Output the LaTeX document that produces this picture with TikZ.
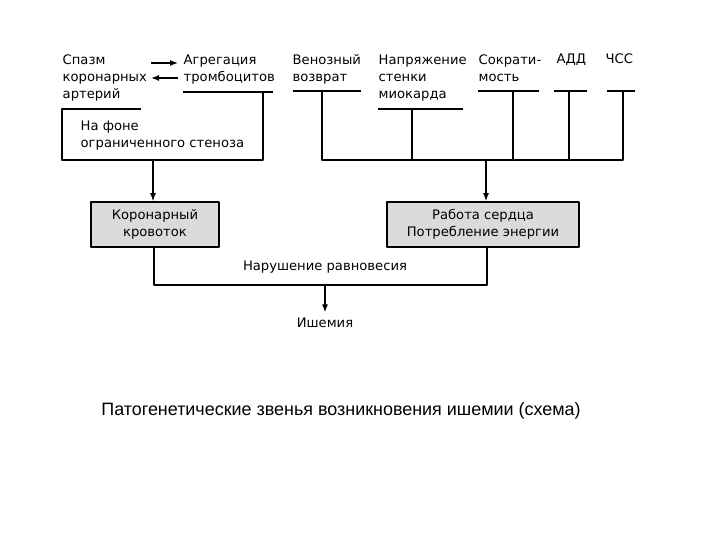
\documentclass[tikz,border=0pt]{standalone}
\usepackage{fontspec}
\setmainfont{DejaVu Sans}
\newfontfamily\capfont{Liberation Sans}
\usetikzlibrary{arrows.meta}
\begin{document}
\begin{tikzpicture}[>={Latex[length=8bp,width=6bp]},line join=bevel,x=1bp,y=-1bp]
  \pgfsetlinewidth{1.4bp}
  \tikzset{
    lbl/.style={align=left,inner sep=0pt,anchor=base west,font=\fontsize{13.2}{17.5}\selectfont},
    txt/.style={inner sep=0pt,font=\fontsize{13.2}{17.5}\selectfont},
    box/.style={draw,line width=1.6bp,fill=black!14,align=center,inner sep=0pt,font=\fontsize{13.2}{17}\selectfont}
  }
  \useasboundingbox (0,0) rectangle (720,540);
%%
  % Node: factors (base = last line)
  \node[lbl] (spazm) at (62,99) {Спазм\\коронарных\\артерий};
  \node[lbl] (agreg) at (183,81.5) {Агрегация\\тромбоцитов};
  \node[lbl] (ven) at (292,81.5) {Венозный\\возврат};
  \node[lbl] (napr) at (378,99) {Напряжение\\стенки\\миокарда};
  \node[lbl] (sokr) at (478,81.5) {Сократи-\\мость};
  \node[lbl] (add) at (556,64) {АДД};
  \node[lbl] (chss) at (605,64) {ЧСС};
  \node[lbl] (fon) at (80,147.5) {На фоне\\ограниченного стеноза};
  % Node: boxes
  \node[box,minimum width=128bp,minimum height=45bp] (koron) at (155,224.5) {Коронарный\\кровоток};
  \node[box,minimum width=192bp,minimum height=45bp] (rabota) at (483,224.5) {Работа сердца\\Потребление энергии};
  \node[txt] (disb) at (325,267) {Нарушение равновесия};
  \node[txt] (ischemia) at (325,323) {Ишемия};
  \node[inner sep=0pt,font=\capfont\fontsize{18}{21}\selectfont] (caption) at (341,411)
    {Патогенетические звенья возникновения ишемии (схема)};
%%
  % Edge: spazm <-> agreg
  \coordinate (spazm r) at (151,63);
  \coordinate (agreg l) at (178,63);
  \coordinate (spazm l) at (151,78);
  \coordinate (agreg ll) at (178,78);
  \draw [->] (spazm r) -- (agreg l);
  \draw [->] (agreg ll) -- (spazm l);
  % underlines
  \draw (183,92) -- (273,92);
  \draw (293,91) -- (361,91);
  \draw (378,109) -- (463,109);
  \draw (478,91) -- (539,91);
  \draw (554,91) -- (587,91);
  \draw (607,91) -- (635,91);
  \coordinate (agreg u) at (263,92);
  \coordinate (ven u) at (322,91);
  \coordinate (napr u) at (412,109);
  \coordinate (sokr u) at (513,91);
  \coordinate (add u) at (569,91);
  \coordinate (chss u) at (623,91);
  % Edge: fon frame
  \coordinate (fon top) at (141,109);
  \coordinate (fon bus) at (153,160);
  \draw (fon top) -- (62,109) -- (62,160) -| (agreg u);
  \draw [->] (fon bus) -- (fon bus |- koron.north);
  % Edge: bus -> rabota
  \coordinate (bus l) at (322,160);
  \coordinate (bus m) at (486,160);
  \draw (ven u) -- (bus l) -| (chss u);
  \foreach \f in {napr u,sokr u,add u}
    \draw (\f) -- (\f |- bus l);
  \draw [->] (bus m) -- (bus m |- rabota.north);
  % Edge: koron, rabota -> ischemia
  \coordinate (merge) at (325,285);
  \draw ([xshift=-1bp]koron.south) |- (merge) -| ([xshift=4bp]rabota.south);
  \draw [->,shorten >=5bp] (merge) -- (ischemia.north);
%
\end{tikzpicture}
\end{document}
